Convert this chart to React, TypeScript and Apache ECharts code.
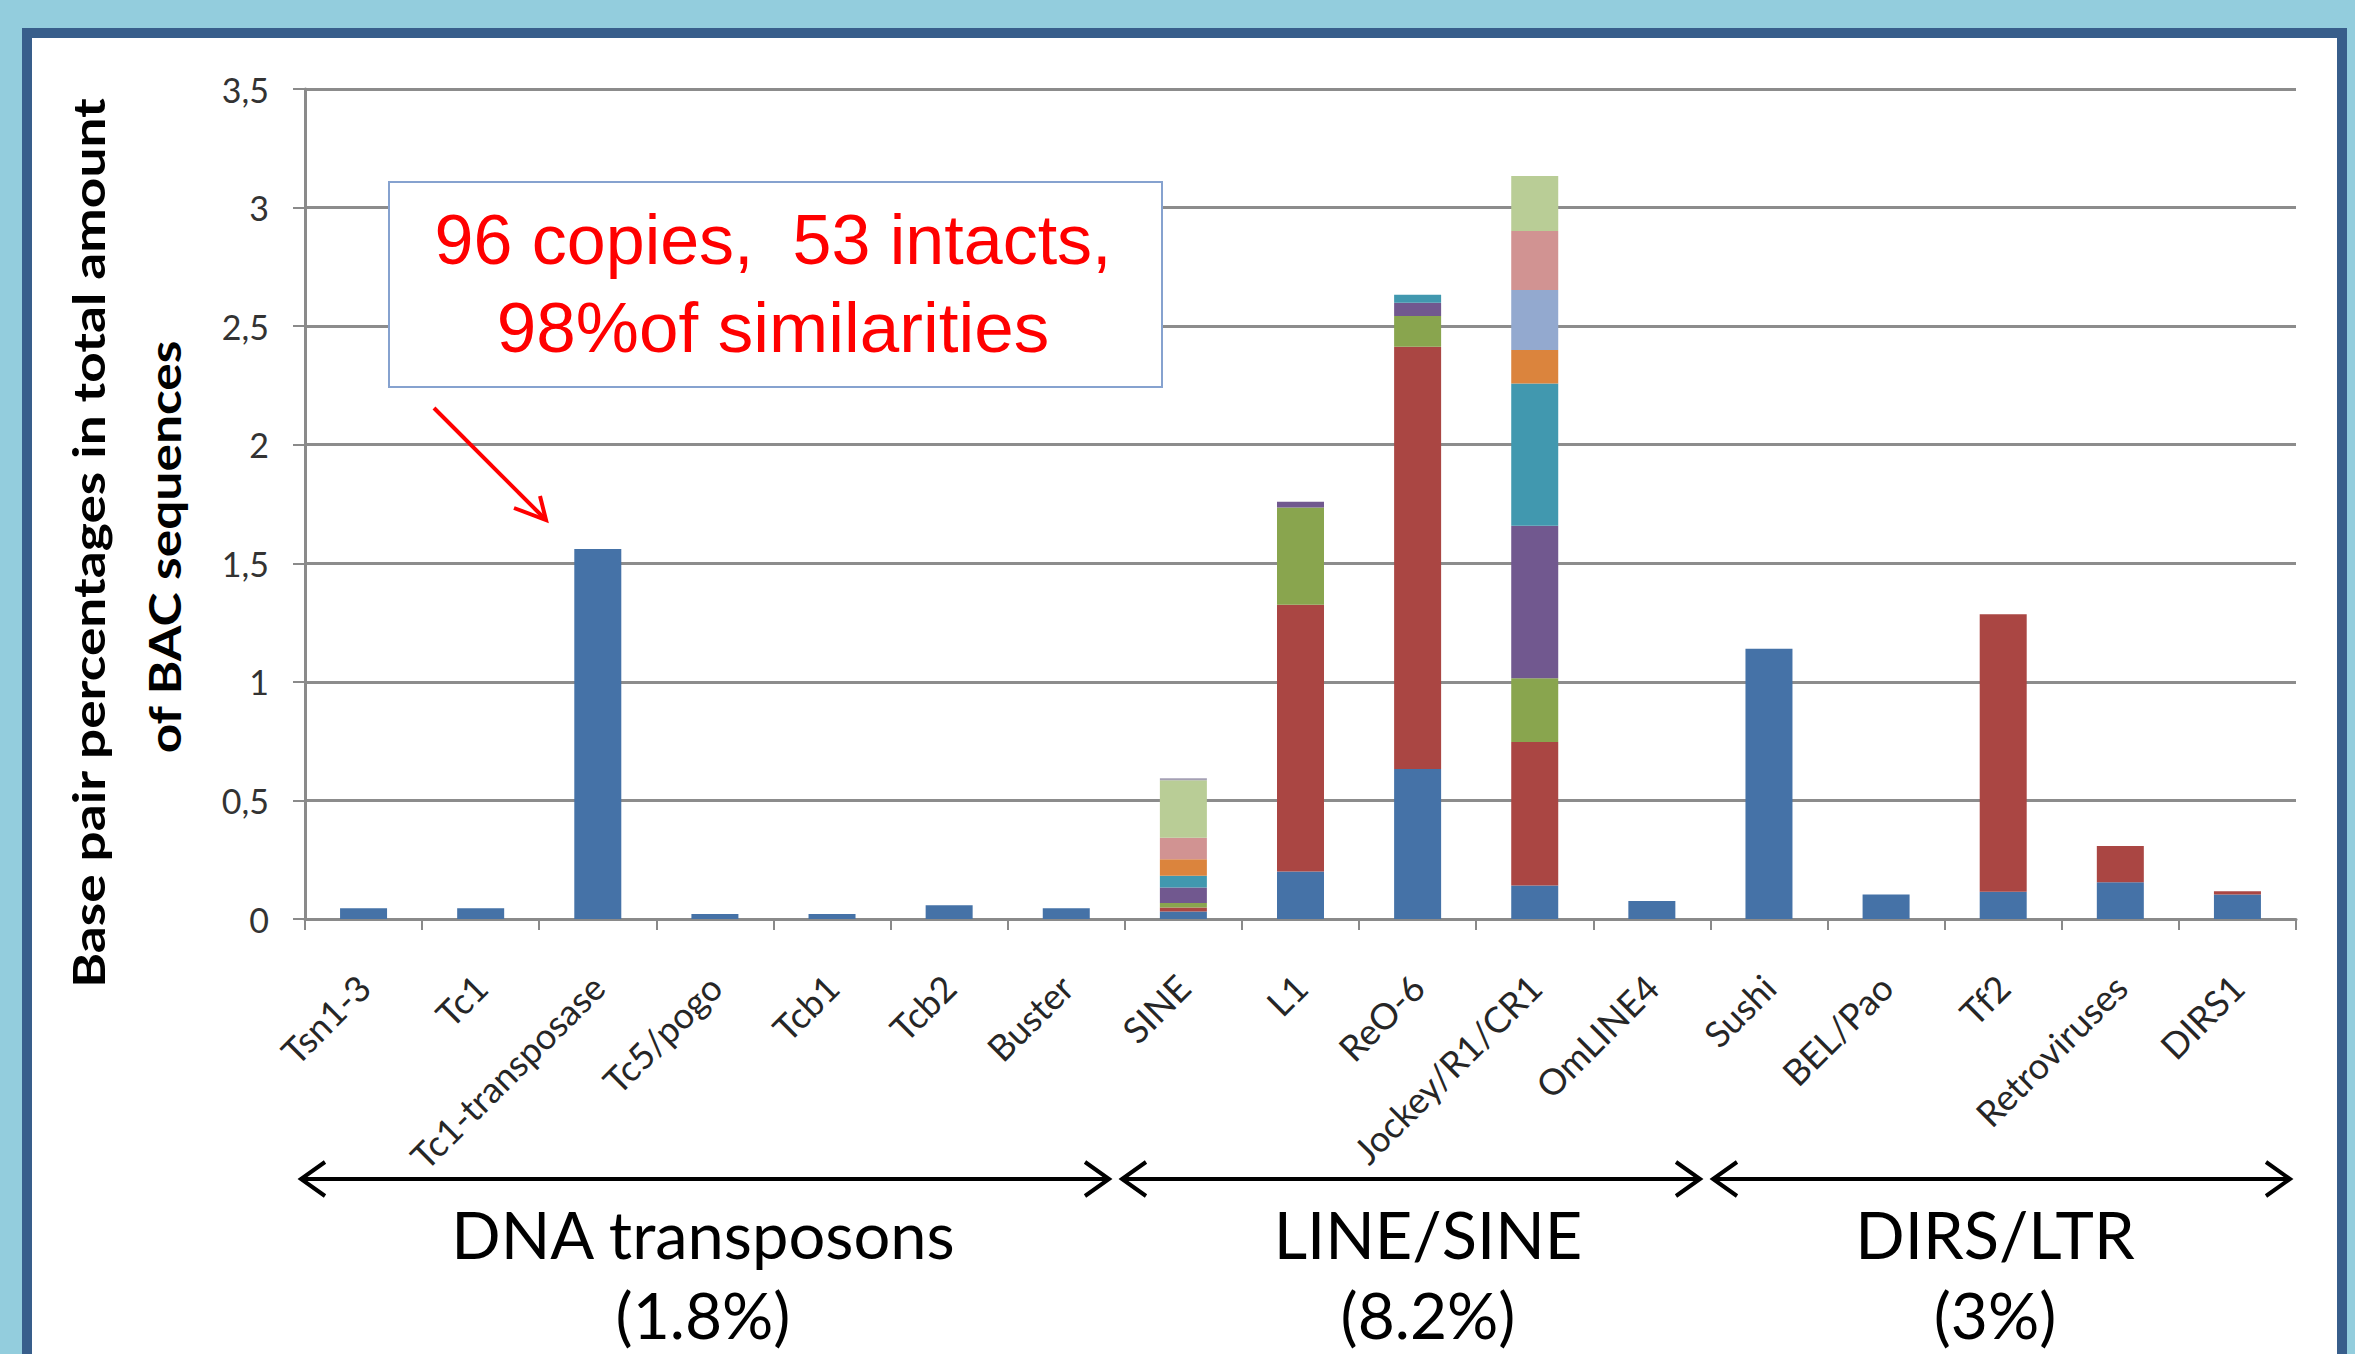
import React, { useEffect, useRef } from "react";
import * as echarts from "echarts";

const categories = [
  "Tsn1-3", "Tc1", "Tc1-transposase", "Tc5/pogo", "Tcb1", "Tcb2", "Buster",
  "SINE", "L1", "ReO-6", "Jockey/R1/CR1", "OmLINE4",
  "Sushi", "BEL/Pao", "Tf2", "Retroviruses", "DIRS1",
];

const yTicks = [0, 0.5, 1, 1.5, 2, 2.5, 3, 3.5];

const s1 = [0.045, 0.045, 1.56, 0.021, 0.021, 0.058, 0.045, 0.032, 0.2, 0.633, 0.141, 0.076, 1.14, 0.103, 0.115, 0.155, 0.103];
const s2 = [0, 0, 0, 0, 0, 0, 0, 0.017, 1.125, 1.78, 0.605, 0, 0, 0, 1.17, 0.153, 0.014];
const s3 = [0, 0, 0, 0, 0, 0, 0, 0.018, 0.41, 0.13, 0.269, 0, 0, 0, 0, 0, 0];
const s4 = [0, 0, 0, 0, 0, 0, 0, 0.066, 0.025, 0.056, 0.643, 0, 0, 0, 0, 0, 0];
const s5 = [0, 0, 0, 0, 0, 0, 0, 0.049, 0, 0.033, 0.6, 0, 0, 0, 0, 0, 0];
const s6 = [0, 0, 0, 0, 0, 0, 0, 0.07, 0, 0, 0.141, 0, 0, 0, 0, 0, 0];
const s7 = [0, 0, 0, 0, 0, 0, 0, 0, 0, 0, 0.253, 0, 0, 0, 0, 0, 0];
const s8 = [0, 0, 0, 0, 0, 0, 0, 0.091, 0, 0, 0.249, 0, 0, 0, 0, 0, 0];
const s9 = [0, 0, 0, 0, 0, 0, 0, 0.242, 0, 0, 0.232, 0, 0, 0, 0, 0, 0];
const s10 = [0, 0, 0, 0, 0, 0, 0, 0.008, 0, 0, 0, 0, 0, 0, 0, 0, 0];

const seriesValues = [s1, s2, s3, s4, s5, s6, s7, s8, s9, s10];
const seriesNames = ["Family 1", "Family 2", "Family 3", "Family 4", "Family 5", "Family 6", "Family 7", "Family 8", "Family 9", "Family 10"];
const palette = ["#4572A7", "#AA4643", "#89A54E", "#71588F", "#4198AF", "#DB843D", "#93A9CF", "#D19392", "#B9CD96", "#A5A0B4"];

const yTitle = ["Base pair percentages in total amount", "of BAC sequences"];
const annotationLines = ["96 copies,  53 intacts,", "98%of similarities"];
const groups = [
  { name: "DNA transposons", pct: "(1.8%)", x1: 301, x2: 1109, cx: 703 },
  { name: "LINE/SINE", pct: "(8.2%)", x1: 1122, x2: 1700, cx: 1428 },
  { name: "DIRS/LTR", pct: "(3%)", x1: 1713, x2: 2290, cx: 1995 },
];

export default function App() {
  const ref = useRef<HTMLDivElement>(null);
  useEffect(() => {
    if (!ref.current) return;
    const chart = echarts.init(ref.current, null, { renderer: "svg" });

    const graphics: any[] = [
      { type: "rect", z: -100, shape: { x: 22, y: 28, width: 2325, height: 1340 }, style: { fill: "#385E8B" } },
      { type: "rect", z: -99, shape: { x: 32, y: 38, width: 2305, height: 1330 }, style: { fill: "#FFFFFF" } },
      // y axis title
      {
        type: "text", z: 50, x: 88, y: 543, rotation: Math.PI / 2, scaleX: 1.21,
        style: { text: yTitle[0], font: "bold 44px Lato", fill: "#000", textAlign: "center", textVerticalAlign: "middle" },
      },
      {
        type: "text", z: 50, x: 164, y: 547, rotation: Math.PI / 2, scaleX: 1.17,
        style: { text: yTitle[1], font: "bold 44px Lato", fill: "#000", textAlign: "center", textVerticalAlign: "middle" },
      },
      // annotation box
      {
        type: "rect", z: 60, shape: { x: 389, y: 182, width: 773, height: 205 },
        style: { fill: "#FFFFFF", stroke: "#86A2CF", lineWidth: 2 },
      },
      {
        type: "text", z: 61, x: 773, y: 240,
        style: { text: annotationLines[0], font: "70px 'Liberation Sans'", fill: "#FF0000", textAlign: "center", textVerticalAlign: "middle" },
      },
      {
        type: "text", z: 61, x: 773, y: 327,
        style: { text: annotationLines[1], font: "71px 'Liberation Sans'", fill: "#FF0000", textAlign: "center", textVerticalAlign: "middle" },
      },
      {
        type: "line", z: 61, shape: { x1: 434, y1: 408, x2: 544, y2: 518 },
        style: { stroke: "#FF0000", lineWidth: 4 },
      },
      {
        type: "polyline", z: 61, shape: { points: [[514, 508], [546, 520], [540, 496]] },
        style: { stroke: "#FF0000", lineWidth: 4, fill: "none" },
      },
    ];

    groups.forEach((g) => {
      const y = 1179;
      graphics.push({ type: "line", z: 50, shape: { x1: g.x1 + 2, y1: y, x2: g.x2 - 2, y2: y }, style: { stroke: "#000", lineWidth: 4 } });
      graphics.push({ type: "polyline", z: 50, shape: { points: [[g.x1 + 24, y - 17], [g.x1, y], [g.x1 + 24, y + 17]] }, style: { stroke: "#000", lineWidth: 4, fill: "none" } });
      graphics.push({ type: "polyline", z: 50, shape: { points: [[g.x2 - 24, y - 17], [g.x2, y], [g.x2 - 24, y + 17]] }, style: { stroke: "#000", lineWidth: 4, fill: "none" } });
      graphics.push({
        type: "text", z: 50, x: g.cx, y: 1234,
        style: { text: g.name, font: "65px Lato", fill: "#000", textAlign: "center", textVerticalAlign: "middle" },
      });
      graphics.push({
        type: "text", z: 50, x: g.cx, y: 1314,
        style: { text: g.pct, font: "64px Lato", fill: "#000", textAlign: "center", textVerticalAlign: "middle" },
      });
    });

    const option: any = {
      animation: false,
      backgroundColor: "#93CDDD",
      grid: { left: 305, top: 89, width: 1991, height: 830, containLabel: false },
      xAxis: {
        type: "category",
        data: categories,
        axisLine: { show: true, lineStyle: { color: "#8A8A8A", width: 3 } },
        axisTick: { show: true, length: 11, lineStyle: { color: "#8A8A8A", width: 2 } },
        axisLabel: {
          interval: 0, rotate: 45, margin: 62,
          fontFamily: "Lato", fontSize: 36, color: "#262626",
        },
      },
      yAxis: {
        type: "value",
        min: yTicks[0],
        max: yTicks[yTicks.length - 1],
        interval: yTicks[1] - yTicks[0],
        axisLine: { show: true, lineStyle: { color: "#8A8A8A", width: 3 } },
        axisTick: { show: true, length: 12, lineStyle: { color: "#8A8A8A", width: 2 } },
        splitLine: { show: true, lineStyle: { color: "#8C8C8C", width: 3 } },
        axisLabel: {
          margin: 36, fontFamily: "Lato", fontSize: 34, color: "#333",
          formatter: (v: number) => String(v).replace(".", ","),
        },
      },
      series: seriesValues.map((vals, i) => ({
        name: seriesNames[i],
        type: "bar",
        stack: "total",
        data: vals,
        barWidth: 47,
        itemStyle: { color: palette[i] },
      })),
      graphic: graphics,
    };

    chart.setOption(option);
    return () => chart.dispose();
  }, []);

  return (
    <div
      ref={ref}
      style={{ position: "fixed", left: 0, top: 0, width: 2355, height: 1354 }}
    />
  );
}
